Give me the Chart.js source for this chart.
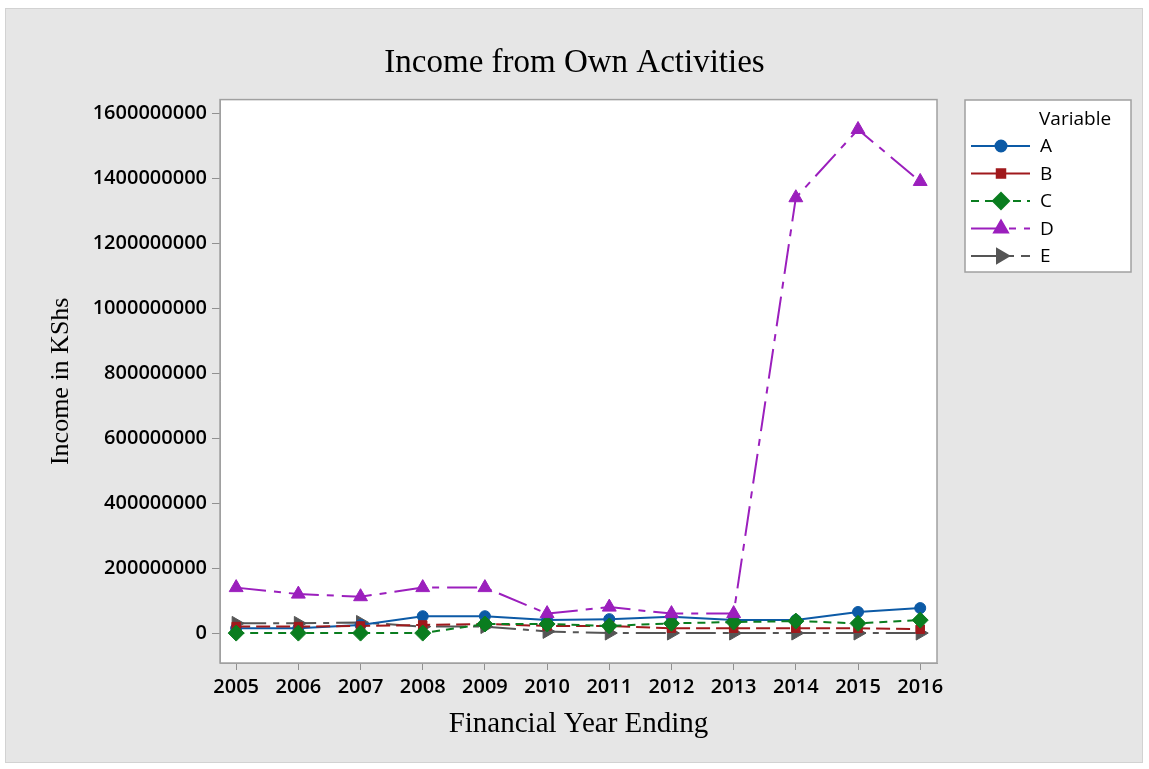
<!DOCTYPE html>
<html>
<head>
<meta charset="utf-8">
<title>Income from Own Activities</title>
<script src="https://cdn.jsdelivr.net/npm/chart.js@4.4.1/dist/chart.umd.min.js"></script>
<style>
  html, body { margin: 0; padding: 0; background: #fff; }
  canvas { display: block; }
</style>
</head>
<body>
<canvas id="incomeChart" width="1149" height="769"></canvas>
<script>
// values (KShs)
const years = [2005, 2006, 2007, 2008, 2009, 2010, 2011, 2012, 2013, 2014, 2015, 2016];
const seriesA = [15000000, 15000000, 25000000, 52000000, 52000000, 40000000, 43000000, 50000000, 40000000, 40000000, 65000000, 77000000];
const seriesB = [20000000, 20000000, 22000000, 25000000, 28000000, 22000000, 22000000, 15000000, 15000000, 15000000, 15000000, 12000000];
const seriesC = [0, 0, 0, 0, 28000000, 28000000, 22000000, 30000000, 34000000, 37000000, 30000000, 40000000];
const seriesD = [140000000, 120000000, 112000000, 140000000, 140000000, 60000000, 80000000, 60000000, 60000000, 1340000000, 1550000000, 1390000000];
const seriesE = [30000000, 30000000, 33000000, 20000000, 20000000, 5000000, 0, 0, 0, 0, 0, 0];
const yTicks = [0, 200000000, 400000000, 600000000, 800000000, 1000000000, 1200000000, 1400000000, 1600000000];

const W = 1149, H = 769;
const plotLeft = 220, plotRight = 937, plotBottom = 663;

const toPoints = vals => vals.map((v, i) => ({ x: years[i], y: v }));

function series(label, vals, color, style, radius, dash, extra) {
  return Object.assign({
    label: label,
    data: toPoints(vals),
    borderColor: color,
    backgroundColor: color,
    borderWidth: 2,
    borderDash: dash,
    pointStyle: style,
    pointRadius: radius,
    pointBorderWidth: 1,
    tension: 0
  }, extra || {});
}

const datasets = [
  series('A', seriesA, '#0c5aa6', 'circle', 5.5, [], { order: 4 }),
  series('B', seriesB, '#a0191c', 'rect', 6, [14, 6], { order: 3 }),
  series('C', seriesC, '#0a7d1f', 'rectRot', 8, [8, 6], { order: 2 }),
  series('D', seriesD, '#9b1fbd', 'triangle', 8, [30, 8, 7, 8], { order: 1 }),
  series('E', seriesE, '#555555', 'triangle', 8, [30, 7, 6, 7], { order: 5, pointRotation: 90 })
];

const backdrop = {
  id: 'backdrop',
  beforeDraw(chart) {
    const { ctx, chartArea: a } = chart;
    ctx.save();
    ctx.fillStyle = '#e6e6e6';
    ctx.fillRect(5, 8, 1138, 755);
    ctx.strokeStyle = '#d2d2d2';
    ctx.lineWidth = 1;
    ctx.strokeRect(5.5, 8.5, 1137, 754);
    ctx.fillStyle = '#ffffff';
    ctx.fillRect(a.left, a.top, a.right - a.left, a.bottom - a.top);
    ctx.restore();
  },
  afterDraw(chart) {
    const { ctx, chartArea: a } = chart;
    ctx.save();
    ctx.strokeStyle = '#a0a0a0';
    ctx.lineWidth = 1.5;
    ctx.strokeRect(a.left, a.top, a.right - a.left, a.bottom - a.top);
    ctx.restore();
  }
};

// Minitab-like legend box on the right
const boxLegend = {
  id: 'boxLegend',
  afterDraw(chart) {
    const ctx = chart.ctx;
    const bx = 965, by = 100, bw = 166, bh = 172;
    ctx.save();
    ctx.fillStyle = '#ffffff';
    ctx.fillRect(bx, by, bw, bh);
    ctx.strokeStyle = '#a0a0a0';
    ctx.lineWidth = 1.5;
    ctx.strokeRect(bx, by, bw, bh);
    ctx.fillStyle = '#000';
    ctx.font = '500 19px "Open Sans"';
    ctx.textBaseline = 'middle';
    ctx.textAlign = 'left';
    ctx.fillText('Variable', 1039, 120);
    chart.data.datasets.forEach((ds, i) => {
      const y = 146 + i * 27.5;
      ctx.strokeStyle = ds.borderColor;
      ctx.lineWidth = 2;
      ctx.setLineDash(i === 1 ? [] : ds.borderDash);
      ctx.beginPath();
      ctx.moveTo(971, y);
      ctx.lineTo(1030, y);
      ctx.stroke();
      ctx.setLineDash([]);
      ctx.fillStyle = ds.backgroundColor;
      Chart.helpers.drawPoint(ctx, {
        pointStyle: ds.pointStyle,
        radius: ds.pointRadius,
        rotation: ds.pointRotation || 0,
        borderWidth: 1
      }, 1001, y);
      ctx.fillStyle = '#000';
      ctx.fillText(ds.label, 1040, y + 1);
    });
    ctx.restore();
  }
};

const tickFont = { family: '"Open Sans"', size: 20, weight: '600' };
const serif = '"Liberation Serif", "Times New Roman", serif';

new Chart(document.getElementById('incomeChart'), {
  type: 'line',
  data: { datasets: datasets },
  plugins: [backdrop, boxLegend],
  options: {
    responsive: false,
    animation: false,
    layout: { padding: 0 },
    plugins: {
      legend: { display: false },
      tooltip: { enabled: false },
      title: {
        display: true,
        text: 'Income from Own Activities',
        color: '#000',
        font: { family: serif, size: 33, weight: 'normal' },
        padding: { top: 44, bottom: 16 }
      }
    },
    scales: {
      x: {
        type: 'linear',
        min: 2004.74,
        max: 2016.27,
        afterFit: s => { s.height = H - plotBottom; },
        afterBuildTicks: s => { s.ticks = years.map(v => ({ value: v })); },
        ticks: {
          color: '#000',
          font: tickFont,
          padding: 5,
          maxRotation: 0,
          autoSkip: false,
          callback: v => String(v)
        },
        grid: { drawOnChartArea: false, tickLength: 7, color: '#909090' },
        border: { color: '#a0a0a0' },
        title: {
          display: true,
          text: 'Financial Year Ending',
          color: '#000',
          font: { family: serif, size: 29 },
          padding: { top: 0, bottom: 27 }
        }
      },
      y: {
        type: 'linear',
        min: -92000000,
        max: 1642000000,
        afterFit: s => { s.width = plotLeft; },
        afterBuildTicks: s => { s.ticks = yTicks.map(v => ({ value: v })); },
        ticks: {
          color: '#000',
          font: tickFont,
          padding: 5,
          callback: v => String(v)
        },
        grid: { drawOnChartArea: false, tickLength: 8, color: '#909090' },
        border: { color: '#a0a0a0' },
        title: {
          display: true,
          text: 'Income in KShs',
          color: '#000',
          font: { family: serif, size: 26 },
          padding: { top: 46, bottom: 0 }
        }
      },
      // empty right-hand axis that only reserves room for the legend box
      spacer: {
        type: 'linear',
        position: 'right',
        display: true,
        afterFit: s => { s.width = W - plotRight; },
        ticks: { display: false },
        grid: { display: false },
        border: { display: false }
      }
    }
  }
});
</script>
</body>
</html>
